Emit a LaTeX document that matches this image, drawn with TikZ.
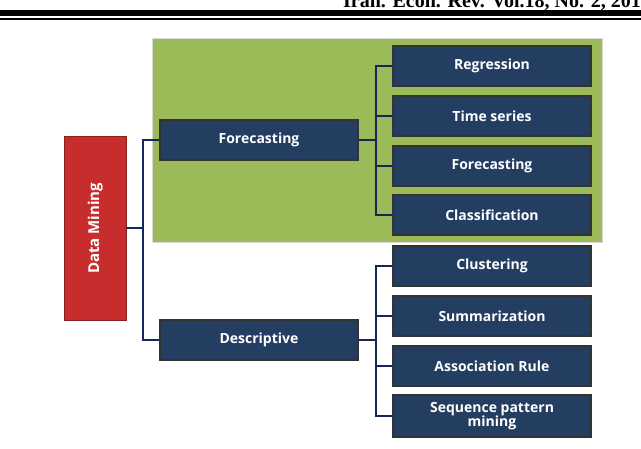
\documentclass[tikz,border=0pt]{standalone}
\usepackage{fontspec}
\setmainfont{Open Sans}
\newfontfamily\tnr{Liberation Serif}
\begin{document}
\begin{tikzpicture}[x=1pt,y=-1pt,
 box/.style={draw=black!80,line width=1.2pt,fill={rgb,255:red,36;green,62;blue,98},text=white,font=\bfseries\fontsize{14}{15}\selectfont,minimum width=198pt,minimum height=40pt,align=center,inner sep=1pt},
 conn/.style={draw={rgb,255:red,18;green,40;blue,88},line width=1.8pt}]
\useasboundingbox (0,0) rectangle (641,448);
\node[font=\tnr\bfseries\fontsize{20}{20}\selectfont,anchor=base east,inner sep=0pt] (hdr) at (641,7) {Iran. Econ. Rev. Vol.18, No. 2, 201};
\fill (0,10) rectangle (641,16);
\fill (0,18) rectangle (641,19.5);
\node[draw=black!15,fill={rgb,255:red,155;green,187;blue,89},minimum width=450pt,minimum height=204pt,anchor=north west] (bg) at (152,38) {};
\node[draw={rgb,255:red,140;green,30;blue,30},fill={rgb,255:red,200;green,45;blue,45},minimum width=62pt,minimum height=184pt,anchor=north west] (dm) at (64,136) {};
\node[rotate=90,text=white,font=\bfseries\fontsize{15}{15}\selectfont] (dmt) at (dm.center) {Data Mining};
\node[box] (fc) at (259,140) {Forecasting};
\node[box] (de) at (259,340) {Descriptive};
\node[box] (r1) at (492,66) {Regression};
\node[box] (r2) at (492,116) {Time series};
\node[box] (r3) at (492,166) {Forecasting};
\node[box] (r4) at (492,215) {Classification};
\node[box] (r5) at (492,266) {Clustering};
\node[box] (r6) at (492,316) {Summarization};
\node[box] (r7) at (492,366) {Association Rule};
\node[box,minimum height=42pt,font=\bfseries\fontsize{14}{14}\selectfont] (r8) at (492,416) {Sequence pattern\\mining};
\coordinate (a) at (143,0);
\draw[conn] (dm.east) -- (dm.east -| a) |- (fc.west);
\draw[conn] (dm.east -| a) |- (de.west);
\coordinate (b) at (376,0);
\foreach \n in {r1,r2,r3,r4} \draw[conn] (fc.east) -| (b |- fc) |- (\n.west);
\foreach \n in {r5,r6,r7,r8} \draw[conn] (de.east) -| (b |- de) |- (\n.west);
\end{tikzpicture}
\end{document}
